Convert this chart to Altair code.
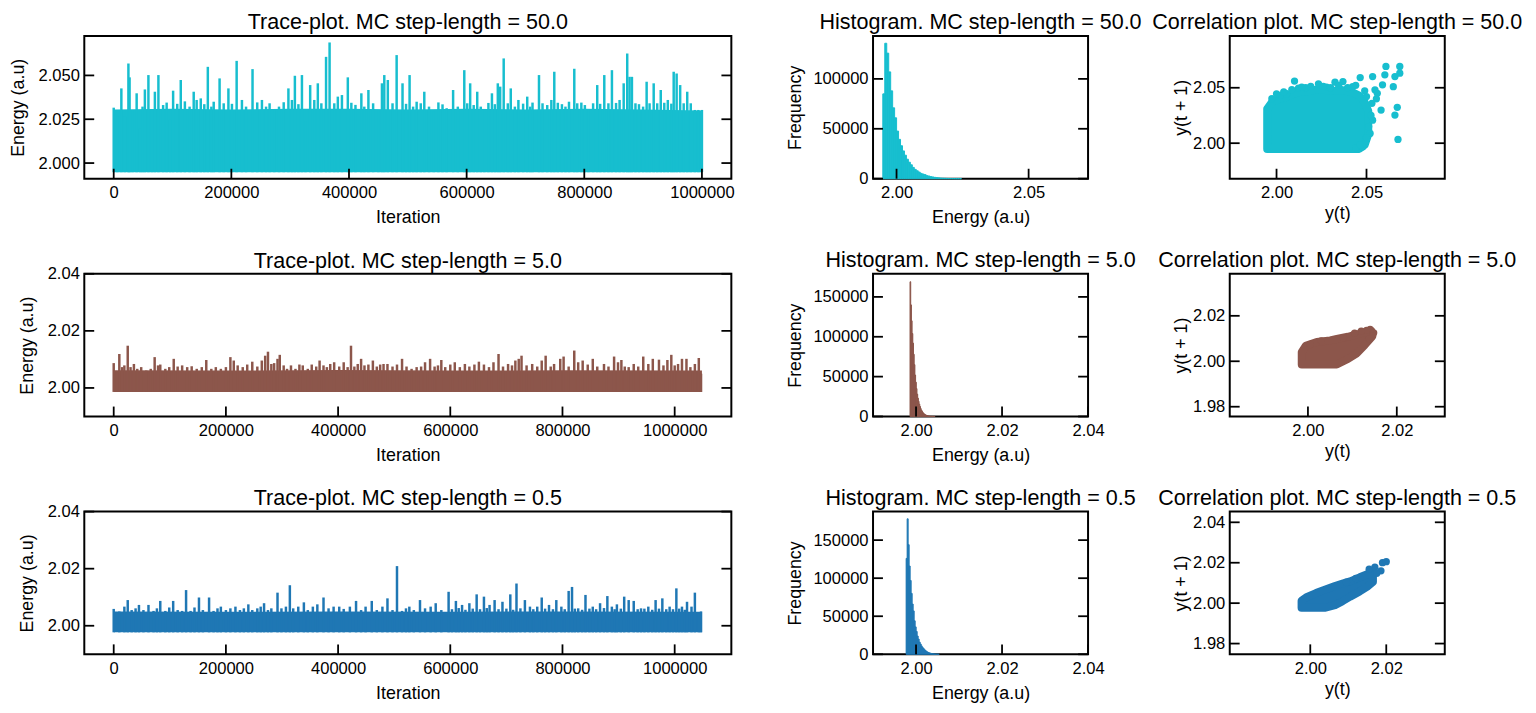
import altair as alt
import pandas as pd

FONT = "Liberation Sans"
TRACE_W, SIDE_W, PANEL_H = 653, 217, 144
TICK_LEN = 10

# ---------------- MC step-length = 50.0 ----------------
# trace spikes: (iteration in thousands, energy)
spikes_50 = [
    (0, 2.0316), (6, 2.0265), (13, 2.0426), (19, 2.0265), (25, 2.0568), (27, 2.0489), (32, 2.0303),
    (39, 2.0398), (45, 2.0199), (49, 2.0322), (53, 2.0420), (59, 2.0502), (65, 2.0303), (70, 2.0407),
    (76, 2.0502), (84, 2.0331), (90, 2.0345), (96, 2.0246), (101, 2.0413), (108, 2.0338), (114, 2.0474),
    (121, 2.0352), (129, 2.0322), (136, 2.0407), (141, 2.0360), (148, 2.0369), (154, 2.0336), (160, 2.0549),
    (166, 2.0322), (170, 2.0350), (180, 2.0483), (187, 2.0341), (195, 2.0426), (201, 2.0338), (209, 2.0583),
    (218, 2.0360), (225, 2.0322), (236, 2.0536), (244, 2.0346), (252, 2.0360), (259, 2.0322), (265, 2.0341),
    (273, 2.0303), (281, 2.0322), (289, 2.0347), (297, 2.0426), (303, 2.0360), (308, 2.0498), (314, 2.0336),
    (320, 2.0502), (326, 2.0237), (334, 2.0445), (341, 2.0360), (347, 2.0455), (353, 2.0341), (361, 2.0606),
    (367, 2.0688), (375, 2.0341), (381, 2.0379), (388, 2.0388), (398, 2.0489), (404, 2.0344), (411, 2.0332),
    (421, 2.0398), (426, 2.0322), (433, 2.0417), (441, 2.0341), (450, 2.0303), (456, 2.0455), (460, 2.0502),
    (466, 2.0474), (474, 2.0341), (481, 2.0616), (491, 2.0455), (497, 2.0338), (503, 2.0502), (509, 2.0322),
    (515, 2.0350), (522, 2.0341), (528, 2.0407), (536, 2.0322), (544, 2.0294), (552, 2.0346), (559, 2.0335),
    (566, 2.0313), (577, 2.0417), (585, 2.0322), (596, 2.0530), (601, 2.0341), (606, 2.0455), (612, 2.0331),
    (618, 2.0407), (624, 2.0322), (630, 2.0307), (637, 2.0343), (643, 2.0398), (648, 2.0336), (653, 2.0455),
    (657, 2.0436), (663, 2.0597), (670, 2.0341), (675, 2.0426), (682, 2.0322), (688, 2.0360), (696, 2.0339),
    (703, 2.0379), (708, 2.0322), (712, 2.0345), (723, 2.0502), (729, 2.0341), (737, 2.0331), (744, 2.0360),
    (749, 2.0521), (755, 2.0344), (762, 2.0336), (768, 2.0322), (774, 2.0350), (783, 2.0538), (788, 2.0341),
    (795, 2.0345), (801, 2.0331), (807, 2.0303), (815, 2.0341), (822, 2.0445), (827, 2.0338), (834, 2.0502),
    (841, 2.0341), (847, 2.0530), (854, 2.0343), (860, 2.0360), (867, 2.0455), (873, 2.0625), (877, 2.0492),
    (881, 2.0492), (887, 2.0341), (893, 2.0336), (900, 2.0322), (906, 2.0464), (911, 2.0341), (918, 2.0455),
    (924, 2.0341), (930, 2.0417), (936, 2.0344), (942, 2.0360), (948, 2.0339), (952, 2.0521), (957, 2.0511),
    (963, 2.0445), (969, 2.0341), (975, 2.0407), (981, 2.0341), (988, 2.0303), (994, 2.0303), (1000, 2.0303),
]
body_50 = [(0, 2.0305), (100, 2.031), (200, 2.0305), (300, 2.031), (400, 2.031), (500, 2.0305),
           (600, 2.031), (700, 2.0305), (800, 2.031), (900, 2.0305), (1000, 2.0300)]
base_50 = 1.9948
hist_start_50, hist_width_50 = 1.9948, 0.000745
hist_counts_50 = [85000, 135700, 125800, 107000, 88000, 71000, 61000, 47700, 39400, 33000,
                  27800, 23500, 19500, 16500, 13900, 11300, 9300, 7900, 6600, 5300,
                  4600, 4000, 3000, 2600, 2000, 1700, 1300, 1000, 800, 600,
                  450, 350, 250, 180, 130, 90, 60, 40, 30, 20]
# correlation blob outline: (y(t), lower y(t+1), upper y(t+1))
blob_50 = [(1.9948, 1.9948, 2.0310), (1.9975, 1.9948, 2.0370), (2.0020, 1.9948, 2.0400),
           (2.0060, 1.9948, 2.0420), (2.0120, 1.9948, 2.0460), (2.0180, 1.9948, 2.0470),
           (2.0240, 1.9948, 2.0490), (2.0300, 1.9948, 2.0470), (2.0360, 1.9948, 2.0480),
           (2.0420, 1.9948, 2.0460), (2.0460, 1.9948, 2.0430), (2.0490, 1.9985, 2.0370),
           (2.0510, 2.0080, 2.0290)]
dots_50 = [(1.9974, 2.0401), (2.0021, 2.0431), (2.0057, 2.0446), (2.0100, 2.0560), (2.0122, 2.0497),
           (2.0162, 2.0500), (2.0233, 2.0535), (2.0278, 2.0506), (2.0325, 2.0550), (2.0369, 2.0556),
           (2.0423, 2.0510), (2.0465, 2.0592), (2.0534, 2.0601), (2.0547, 2.0481), (2.0589, 2.0526),
           (2.0602, 2.0617), (2.0608, 2.0692), (2.0649, 2.0510), (2.0658, 2.0601), (2.0685, 2.0692),
           (2.0685, 2.0631), (2.0581, 2.0299), (2.0658, 2.0254), (2.0671, 2.0324), (2.0534, 2.0208),
           (2.0520, 2.0088), (2.0675, 2.0034), (2.0479, 1.9967), (2.0440, 1.9960), (2.0555, 2.0400),
           (2.0560, 2.0450), (2.0000, 2.0445), (2.0040, 2.0462), (2.0085, 2.0482), (2.0140, 2.0505),
           (2.0190, 2.0512), (2.0260, 2.0512), (2.0300, 2.0500), (2.0345, 2.0522), (2.0395, 2.0502),
           (2.0440, 2.0522), (2.0490, 2.0472), (2.0500, 2.0420), (2.0530, 2.0360), (2.0525, 2.0250),
           (2.0512, 2.0150), (2.0500, 2.0050), (2.0465, 1.9985)]

# ---------------- MC step-length = 5.0 ----------------
spikes_5 = [
    (0, 2.0087), (6, 2.0055), (10, 2.0119), (15, 2.0073), (19, 2.0079), (25, 2.0148), (30, 2.0073),
    (36, 2.0084), (42, 2.0067), (49, 2.0073), (58, 2.0061), (66, 2.0067), (73, 2.0108), (79, 2.0079),
    (83, 2.0082), (92, 2.0067), (99, 2.0073), (107, 2.0102), (114, 2.0075), (122, 2.0079), (131, 2.0073),
    (139, 2.0076), (148, 2.0067), (157, 2.0073), (165, 2.0098), (174, 2.0067), (182, 2.0073), (191, 2.0067),
    (200, 2.0073), (208, 2.0108), (214, 2.0096), (221, 2.0079), (230, 2.0073), (238, 2.0082), (247, 2.0092),
    (256, 2.0075), (264, 2.0096), (270, 2.0113), (275, 2.0127), (281, 2.0084), (286, 2.0087), (292, 2.0102),
    (296, 2.0116), (303, 2.0079), (309, 2.0067), (316, 2.0079), (324, 2.0067), (331, 2.0082), (337, 2.0079),
    (346, 2.0067), (353, 2.0082), (361, 2.0075), (367, 2.0096), (374, 2.0079), (380, 2.0073), (386, 2.0084),
    (393, 2.0090), (402, 2.0075), (410, 2.0090), (417, 2.0073), (423, 2.0148), (429, 2.0075), (435, 2.0084),
    (441, 2.0102), (447, 2.0079), (454, 2.0082), (462, 2.0096), (469, 2.0075), (475, 2.0082), (481, 2.0084),
    (488, 2.0084), (497, 2.0075), (505, 2.0082), (514, 2.0102), (522, 2.0075), (531, 2.0067), (540, 2.0073),
    (548, 2.0075), (555, 2.0090), (564, 2.0102), (572, 2.0075), (578, 2.0079), (584, 2.0098), (591, 2.0073),
    (600, 2.0082), (608, 2.0090), (617, 2.0073), (626, 2.0084), (634, 2.0075), (643, 2.0082), (651, 2.0092),
    (660, 2.0082), (669, 2.0073), (677, 2.0090), (686, 2.0119), (694, 2.0075), (703, 2.0084), (710, 2.0079),
    (716, 2.0096), (722, 2.0102), (727, 2.0113), (736, 2.0079), (746, 2.0084), (755, 2.0075), (763, 2.0096),
    (770, 2.0113), (779, 2.0075), (785, 2.0084), (796, 2.0102), (802, 2.0110), (811, 2.0075), (821, 2.0131),
    (828, 2.0090), (836, 2.0096), (845, 2.0082), (854, 2.0102), (862, 2.0075), (874, 2.0084), (882, 2.0075),
    (892, 2.0110), (899, 2.0090), (905, 2.0098), (911, 2.0075), (918, 2.0073), (927, 2.0084), (935, 2.0075),
    (944, 2.0110), (953, 2.0084), (961, 2.0102), (972, 2.0099), (980, 2.0079), (987, 2.0098), (994, 2.0116),
    (1000, 2.0079), (1006, 2.0084), (1013, 2.0102), (1021, 2.0102), (1028, 2.0073), (1036, 2.0084),
    (1043, 2.0105), (1047, 2.0050),
]
body_5 = [(0, 2.0062), (200, 2.0061), (400, 2.0063), (600, 2.0061), (800, 2.0062), (1048.575, 2.0061)]
base_5 = 1.9986
hist_start_5, hist_width_5 = 1.9986, 0.000162
hist_counts_5 = [169000, 140000, 120000, 104000, 92000, 78000, 65000, 52000, 43000, 35000,
                 28000, 23000, 19000, 15500, 12500, 10000, 8000, 6500, 5000, 4000,
                 3200, 2500, 2000, 1500, 1200, 900, 700, 550, 420, 320,
                 240, 180, 130, 90, 60, 40]
blob_5 = [(1.9986, 1.9986, 2.0040), (1.9995, 1.9986, 2.0068), (2.0020, 1.9986, 2.0085),
          (2.0050, 1.9986, 2.0092), (2.0065, 1.9986, 2.0098), (2.0090, 2.0010, 2.0108),
          (2.0110, 2.0035, 2.0118), (2.0128, 2.0072, 2.0128), (2.0143, 2.0105, 2.0132)]
dots_5 = [(2.0140, 2.0140), (2.0148, 2.0125), (2.0132, 2.0136), (2.0120, 2.0133), (2.0146, 2.0112),
          (2.0105, 2.0124), (2.0005, 2.0074), (2.0030, 2.0090), (2.0080, 2.0104), (2.0138, 2.0100)]

# ---------------- MC step-length = 0.5 ----------------
spikes_05 = [
    (0, 2.0059), (10, 2.0050), (19, 2.0067), (25, 2.0090), (32, 2.0055), (39, 2.0061), (45, 2.0073),
    (53, 2.0055), (62, 2.0073), (71, 2.0052), (77, 2.0061), (83, 2.0087), (92, 2.0052), (99, 2.0064),
    (106, 2.0087), (114, 2.0055), (122, 2.0052), (129, 2.0125), (137, 2.0052), (144, 2.0064), (152, 2.0099),
    (159, 2.0055), (170, 2.0099), (178, 2.0052), (185, 2.0061), (191, 2.0067), (200, 2.0055), (208, 2.0061),
    (217, 2.0067), (225, 2.0055), (232, 2.0061), (240, 2.0075), (247, 2.0055), (256, 2.0061), (262, 2.0067),
    (268, 2.0079), (275, 2.0055), (281, 2.0061), (292, 2.0116), (299, 2.0061), (307, 2.0067), (314, 2.0142),
    (320, 2.0061), (329, 2.0067), (339, 2.0082), (346, 2.0055), (355, 2.0067), (363, 2.0075), (374, 2.0099),
    (383, 2.0061), (392, 2.0067), (402, 2.0067), (410, 2.0059), (421, 2.0067), (432, 2.0087), (441, 2.0055),
    (449, 2.0067), (460, 2.0087), (469, 2.0055), (479, 2.0067), (488, 2.0096), (497, 2.0055), (505, 2.0209),
    (514, 2.0052), (521, 2.0061), (527, 2.0067), (535, 2.0055), (546, 2.0090), (555, 2.0061), (565, 2.0067),
    (574, 2.0079), (584, 2.0055), (597, 2.0119), (603, 2.0058), (610, 2.0087), (615, 2.0062), (621, 2.0073),
    (627, 2.0056), (634, 2.0079), (640, 2.0060), (647, 2.0110), (653, 2.0058), (660, 2.0102), (665, 2.0062),
    (670, 2.0073), (679, 2.0090), (686, 2.0058), (693, 2.0084), (700, 2.0060), (707, 2.0110), (712, 2.0056),
    (718, 2.0148), (725, 2.0061), (733, 2.0090), (742, 2.0067), (748, 2.0058), (755, 2.0067), (763, 2.0099),
    (769, 2.0060), (776, 2.0073), (783, 2.0058), (789, 2.0090), (798, 2.0067), (804, 2.0058), (811, 2.0122),
    (817, 2.0136), (822, 2.0060), (828, 2.0061), (835, 2.0056), (841, 2.0108), (848, 2.0060), (854, 2.0067),
    (860, 2.0058), (867, 2.0079), (874, 2.0062), (880, 2.0104), (888, 2.0067), (893, 2.0058), (897, 2.0075),
    (904, 2.0060), (910, 2.0102), (918, 2.0090), (927, 2.0087), (934, 2.0058), (940, 2.0061), (946, 2.0060),
    (953, 2.0067), (960, 2.0056), (966, 2.0090), (972, 2.0060), (978, 2.0096), (985, 2.0058), (991, 2.0067),
    (997, 2.0058), (1003, 2.0131), (1008, 2.0060), (1013, 2.0067), (1018, 2.0056), (1022, 2.0084),
    (1030, 2.0067), (1036, 2.0116), (1043, 2.0044), (1047, 2.0050),
]
body_05 = [(0, 2.0050), (200, 2.0049), (400, 2.0050), (600, 2.0049), (800, 2.0050), (1048.575, 2.0049)]
base_05 = 1.9977
hist_start_05, hist_width_05 = 1.9977, 0.000233
hist_counts_05 = [126000, 178000, 144000, 116000, 97000, 80000, 66000, 57000, 44000, 36000,
                  30000, 24000, 20000, 16000, 13500, 11000, 9000, 7500, 6000, 4800,
                  3800, 3000, 2300, 1800, 1400, 1000, 750, 550, 400, 280, 200, 140, 90]
blob_05 = [(1.9977, 1.9977, 2.0012), (1.9990, 1.9977, 2.0030), (2.0015, 1.9977, 2.0050),
           (2.0040, 1.9977, 2.0068), (2.0065, 1.9990, 2.0085), (2.0085, 2.0010, 2.0097),
           (2.0105, 2.0032, 2.0108), (2.0130, 2.0058, 2.0128), (2.0150, 2.0082, 2.0143),
           (2.0165, 2.0105, 2.0160)]
dots_05 = [(2.0170, 2.0178), (2.0190, 2.0200), (2.0200, 2.0205), (2.0186, 2.0160), (2.0155, 2.0168),
           (2.0175, 2.0148), (2.0120, 2.0122), (2.0095, 2.0104)]

ROWS = [
    dict(label="50.0", color="#17becf", spikes=spikes_50, body=body_50, base=base_50,
         trace_x=[-50000, 1050000], trace_y=[1.9911, 2.0725], trace_yticks=[2.000, 2.025, 2.050], trace_fmt=".3f",
         trace_title_offset=2,
         hist=(hist_start_50, hist_width_50, hist_counts_50), hist_x=[1.9911, 2.0725], hist_xticks=[2.00, 2.05],
         hist_y=[0, 143000], hist_yticks=[0, 50000, 100000],
         blob=blob_50, dots=dots_50, corr_x=[1.974, 2.0935], corr_y=[1.968, 2.0967],
         corr_xticks=[2.00, 2.05], corr_yticks=[2.00, 2.05]),
    dict(label="5.0", color="#8c564b", spikes=spikes_5, body=body_5, base=base_5,
         trace_x=[-52429, 1101004], trace_y=[1.99, 2.04], trace_yticks=[2.00, 2.02, 2.04], trace_fmt=".2f",
         trace_title_offset=-6.4,
         hist=(hist_start_5, hist_width_5, hist_counts_5), hist_x=[1.99, 2.04], hist_xticks=[2.00, 2.02, 2.04],
         hist_y=[0, 179000], hist_yticks=[0, 50000, 100000, 150000],
         blob=blob_5, dots=dots_5, corr_x=[1.9824, 2.0308], corr_y=[1.9757, 2.0385],
         corr_xticks=[2.00, 2.02], corr_yticks=[1.98, 2.00, 2.02]),
    dict(label="0.5", color="#1f77b4", spikes=spikes_05, body=body_05, base=base_05,
         trace_x=[-52429, 1101004], trace_y=[1.99, 2.04], trace_yticks=[2.00, 2.02, 2.04], trace_fmt=".2f",
         trace_title_offset=-6.4,
         hist=(hist_start_05, hist_width_05, hist_counts_05), hist_x=[1.99, 2.04], hist_xticks=[2.00, 2.02, 2.04],
         hist_y=[0, 187500], hist_yticks=[0, 50000, 100000, 150000],
         blob=blob_05, dots=dots_05, corr_x=[1.9788, 2.0354], corr_y=[1.9747, 2.0453],
         corr_xticks=[2.00, 2.02], corr_yticks=[1.98, 2.00, 2.02, 2.04]),
]
ITER_TICKS = [0, 200000, 400000, 600000, 800000, 1000000]


def panel_title(text, offset=2):
    return alt.TitleParams(text, font=FONT, fontSize=21.7, fontWeight="normal", color="black",
                           anchor="middle", frame="group", offset=offset)


def make_axis(title, values, fmt, label_pad, title_pad):
    return alt.Axis(
        title=title, values=values, format=fmt,
        ticks=False, tickSize=0, domain=False, grid=False,
        labelFont=FONT, labelFontSize=16.7, labelColor="black", labelPadding=label_pad,
        labelFlush=False, labelOverlap=False,
        titleFont=FONT, titleFontSize=18, titleFontWeight="normal", titleColor="black",
        titlePadding=title_pad,
    )


def inner_ticks(xticks, yticks, x_enc, y_enc, width):
    """matplotlib-style inward ticks on the bottom, left and right edges"""
    rule = dict(color="black", strokeWidth=1.8)
    xdf = pd.DataFrame({x_enc.shorthand.split(":")[0]: xticks})
    ydf = pd.DataFrame({y_enc.shorthand.split(":")[0]: yticks})
    bottom = alt.Chart(xdf).mark_rule(**rule).encode(
        x=x_enc, y=alt.value(PANEL_H), y2=alt.value(PANEL_H - TICK_LEN))
    left = alt.Chart(ydf).mark_rule(**rule).encode(
        y=y_enc, x=alt.value(0), x2=alt.value(TICK_LEN))
    right = alt.Chart(ydf).mark_rule(**rule).encode(
        y=y_enc, x=alt.value(width - TICK_LEN), x2=alt.value(width))
    return [bottom, left, right]


def trace_panel(r):
    x_enc = alt.X("it:Q", scale=alt.Scale(domain=r["trace_x"]),
                  axis=make_axis("Iteration", ITER_TICKS, "d", 6, 8))
    y_enc = alt.Y("e:Q", scale=alt.Scale(domain=r["trace_y"]),
                  axis=make_axis("Energy (a.u)", r["trace_yticks"], r["trace_fmt"], 5, 11))
    body = pd.DataFrame(r["body"], columns=["it", "e"])
    body["it"] *= 1000
    body["base"] = r["base"]
    sp = pd.DataFrame(r["spikes"], columns=["it", "e"])
    sp["it"] *= 1000
    sp["base"] = r["base"]
    area = alt.Chart(body).mark_area(color=r["color"], opacity=1).encode(x=x_enc, y=y_enc, y2="base:Q")
    rules = alt.Chart(sp).mark_rule(color=r["color"], strokeWidth=2.5).encode(x=x_enc, y=y_enc, y2="base:Q")
    ticks = inner_ticks(ITER_TICKS, r["trace_yticks"], x_enc, y_enc, TRACE_W)
    return alt.layer(area, rules, *ticks).properties(
        width=TRACE_W, height=PANEL_H,
        title=panel_title(f"Trace-plot. MC step-length = {r['label']}", r["trace_title_offset"]))


def hist_panel(r):
    start, width, counts = r["hist"]
    df = pd.DataFrame({"count": counts})
    df["x0"] = [start + i * width for i in range(len(counts))]
    df["x1"] = df["x0"] + width
    df["zero"] = 0
    x_enc = alt.X("x0:Q", scale=alt.Scale(domain=r["hist_x"]),
                  axis=make_axis("Energy (a.u)", r["hist_xticks"], ".2f", 6, 8))
    y_enc = alt.Y("count:Q", scale=alt.Scale(domain=r["hist_y"]),
                  axis=make_axis("Frequency", r["hist_yticks"], "d", 5, 9))
    bars = alt.Chart(df).mark_rect(color=r["color"], stroke=r["color"], strokeWidth=1).encode(
        x=x_enc, x2="x1:Q", y=y_enc, y2="zero:Q")
    ticks = inner_ticks(r["hist_xticks"], r["hist_yticks"], x_enc, y_enc, SIDE_W)
    return alt.layer(bars, *ticks).properties(
        width=SIDE_W, height=PANEL_H, title=panel_title(f"Histogram. MC step-length = {r['label']}"))


def corr_panel(r):
    x_enc = alt.X("yt:Q", scale=alt.Scale(domain=r["corr_x"]),
                  axis=make_axis("y(t)", r["corr_xticks"], ".2f", 6, 4))
    y_enc = alt.Y("yt1:Q", scale=alt.Scale(domain=r["corr_y"]),
                  axis=make_axis("y(t + 1)", r["corr_yticks"], ".2f", 5, 2))
    blob = pd.DataFrame(r["blob"], columns=["yt", "lo", "yt1"])
    dots = pd.DataFrame(r["dots"], columns=["yt", "yt1"])
    area = alt.Chart(blob).mark_area(color=r["color"], stroke=r["color"], strokeWidth=8,
                                     strokeJoin="round", opacity=1).encode(x=x_enc, y=y_enc, y2="lo:Q")
    pts = alt.Chart(dots).mark_circle(color=r["color"], size=54, opacity=1).encode(x=x_enc, y=y_enc)
    ticks = inner_ticks(r["corr_xticks"], r["corr_yticks"], x_enc, y_enc, SIDE_W)
    return alt.layer(area, pts, *ticks).properties(
        width=SIDE_W, height=PANEL_H, title=panel_title(f"Correlation plot. MC step-length = {r['label']}"))


rows = [alt.hconcat(trace_panel(r), hist_panel(r), corr_panel(r), spacing=143, bounds="flush") for r in ROWS]

chart = (
    alt.vconcat(*rows, spacing=21)
    .properties(padding={"left": 0, "top": 0, "right": 4, "bottom": 4})
    .configure_view(stroke="black", strokeWidth=2)
)

chart.save("out.html", embed_options={"renderer": "svg", "actions": False})
